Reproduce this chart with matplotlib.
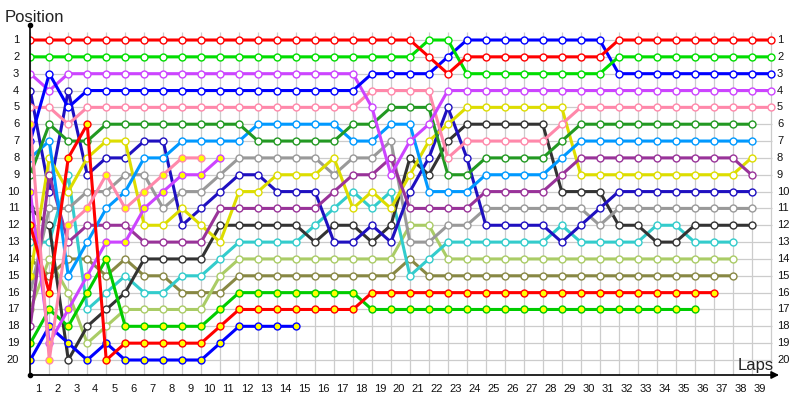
import matplotlib
matplotlib.use("Agg")
import matplotlib.pyplot as plt

# ---------------- data: position after each lap (index 0 = grid) ----------------
red = [1,1,1,1,1,1,1,1,1,1, 1,1,1,1,1,1,1,1,1,1, 1,2,3,2,2,2,2,2,2,2, 2,1,1,1,1,1,1,1,1,1]
green = [2,2,2,2,2,2,2,2,2,2, 2,2,2,2,2,2,2,2,2,2, 2,1,1,3,3,3,3,3,3,3, 3,2,2,2,2,2,2,2,2,2]
violet = [3,4,3,3,3,3,3,3,3,3, 3,3,3,3,3,3,3,3,5,9, 7,6,4,4,4,4,4,4,4,4, 4,4,4,4,4,4,4,4,4,4]
blue = [7,3,5,4,4,4,4,4,4,4, 4,4,4,4,4,4,4,4,3,3, 3,3,2,1,1,1,1,1,1,1, 1,3,3,3,3,3,3,3,3,3]
pink = [5,5,6,5,5,5,5,5,5,5, 5,5,5,5,5,5,5,5,4,4, 4,4,8,7,7,7,7,7,6,5, 5,5,5,5,5,5,5,5,5,5]
darkgreen = [9,6,7,7,6,6,6,6,6,6, 6,6,7,7,7,7,7,6,6,5, 5,5,9,9,8,8,8,8,7,6, 6,6,6,6,6,6,6,6,6]
azure = [8,7,15,13,11,10,8,8,7,7, 7,7,6,6,6,6,6,7,7,6, 6,10,10,10,9,9,9,9,8,7, 7,7,7,7,7,7,7,7,7]
purple = [18,9,13,12,12,12,13,13,13,13, 11,11,11,11,11,11,10,9,9,8, 11,11,11,11,10,10,10,10,9,8, 8,8,8,8,8,8,8,8,9]
yellow = [15,8,10,8,7,7,12,12,11,12, 13,10,10,9,9,9,8,11,10,11, 9,7,6,5,5,5,5,5,5,9, 9,9,9,9,9,9,9,9,8]
navy = [4,10,4,9,8,8,7,7,12,11, 10,9,9,10,10,10,13,13,12,13, 10,8,5,8,12,12,12,12,13,12, 11,10,10,10,10,10,10,10,10]
gray = [16,11,11,10,10,9,9,11,10,10, 9,8,8,8,8,8,9,8,8,7, 13,13,12,12,11,11,11,11,11,11, 12,11,11,11,11,11,11,11,11]
dark = [11,12,20,18,17,16,14,14,14,14, 12,12,12,12,12,13,12,12,13,12, 8,9,7,6,6,6,6,6,10,10, 10,12,12,13,13,12,12,12,12]
cyan = [13,13,9,17,16,15,16,16,15,15, 14,13,13,13,13,12,11,10,11,10, 15,14,13,13,13,13,13,13,12,13, 13,13,13,12,12,13,13,13]
lightolive = [17,14,16,19,18,17,17,17,17,17, 15,14,14,14,14,14,14,14,14,14, 12,12,14,14,14,14,14,14,14,14, 14,14,14,14,14,14,14,14]
olive = [14,15,14,14,15,14,15,15,16,16, 16,15,15,15,15,15,15,15,15,15, 14,15,15,15,15,15,15,15,15,15, 15,15,15,15,15,15,15,15]
red_y = [12,16,8,6,20,19,19,19,19,19, 18,17,17,17,17,17,17,17,16,16, 16,16,16,16,16,16,16,16,16,16, 16,16,16,16,16,16,16]
green_y = [19,17,18,16,14,18,18,18,18,18, 17,16,16,16,16,16,16,16,17,17, 17,17,17,17,17,17,17,17,17,17, 17,17,17,17,17,17]
blue_y = [20,18,19,20,19,20,20,20,20,20, 19,18,18,18,18]
pink_y = [6,20,12,11,9,11,10,9,8,8]
violet_y = [10,19,17,15,13,13,11,10,9,9,8]

lap_labels = [str(k) for k in range(1, 40)]
row_labels = [str(r) for r in range(1, 21)]

# style: (series, line colour, yellow-filled markers?)
series = [
    (olive, '#888844', False),
    (lightolive, '#aacc66', False),
    (cyan, '#33cccc', False),
    (dark, '#333333', False),
    (gray, '#999999', False),
    (navy, '#1f10c0', False),
    (yellow, '#dddd00', False),
    (purple, '#993399', False),
    (azure, '#0099ff', False),
    (darkgreen, '#229922', False),
    (pink, '#ff88aa', False),
    (violet, '#cc44ff', False),
    (blue, '#0000ff', False),
    (green, '#00dd00', False),
    (red, '#ff0000', False),
    (blue_y, '#0000ff', True),
    (green_y, '#00cc00', True),
    (violet_y, '#cc44ff', True),
    (red_y, '#ff0000', True),
    (pink_y, '#ff88aa', True),
]
extra_filled = {id(yellow): [0]}

# ---------------- figure ----------------
W, H = 800, 400
fig = plt.figure(figsize=(8, 4), dpi=100)
x0px, dxpx = 30.3, 18.98
y1px, dypx = 40.0, 16.842
xmax = (776 - x0px) / dxpx
ytop = 1 + (25 - y1px) / dypx
ybot = 1 + (375 - y1px) / dypx
ax = fig.add_axes([x0px / W, 1 - 375 / H, (776 - x0px) / W, 350 / H])
ax.set_xlim(0, xmax)
ax.set_ylim(ybot, ytop)
ax.axis('off')

# grid
gc = '#cccccc'
for k in range(40):
    ax.plot([k, k], [0.55, ybot], color=gc, lw=0.9, zorder=1, solid_capstyle='butt')
for r in range(1, 21):
    ax.plot([0, 39.1], [r, r], color=gc, lw=0.9, zorder=1, solid_capstyle='butt')

# axes lines
ax.plot([0, 0], [ytop, ybot], color='black', lw=1.2, zorder=50, clip_on=False)
ax.plot([0], [ytop], 'o', color='black', ms=3, zorder=51, clip_on=False)
ax.plot([0], [ybot], 'o', color='black', ms=3, zorder=51, clip_on=False)
ax.annotate('', xy=(39.45, ybot), xytext=(0, ybot),
            arrowprops=dict(arrowstyle='-|>', color='black', lw=1.2,
                            mutation_scale=11, shrinkA=0, shrinkB=0),
            annotation_clip=False, zorder=50)

# series
z = 5
for vals, col, filled in series:
    laps = list(range(len(vals)))
    ax.plot(laps, vals, color=col, lw=2.2, zorder=z, solid_joinstyle='round')
    extra = extra_filled.get(id(vals), [])
    fx = [l for l in laps if filled or l in extra]
    ox = [l for l in laps if not (filled or l in extra)]
    if ox:
        ax.plot(ox, [vals[l] for l in ox], 'o', ls='none', ms=5.0, mfc='white',
                mec=col, mew=1.0, zorder=z + 1)
    if fx:
        ax.plot(fx, [vals[l] for l in fx], 'o', ls='none', ms=5.0, mfc='#ffff00',
                mec=col, mew=1.0, zorder=z + 1)
    z += 2

# labels
tf = dict(fontsize=8, family='Liberation Sans', color='#111111')
for i, lab in enumerate(row_labels):
    r = i + 1
    ax.text(-0.58, r, lab, ha='right', va='center', clip_on=False, **tf)
    ax.text(39.34, r, lab, ha='left', va='center', clip_on=False, **tf)
ylab = 1 + (389 - y1px) / dypx
for i, lab in enumerate(lap_labels):
    k = i + 1
    ax.text(k - 0.58, ylab, lab, ha='center', va='center', clip_on=False, **tf)

fig.text(5 / W, 1 - 22 / H, 'Position', ha='left', va='baseline',
         fontsize=12, family='Liberation Sans', color='#222222')
fig.text(774 / W, 1 - 370 / H, 'Laps', ha='right', va='baseline',
         fontsize=12, family='Liberation Sans', color='#222222')

fig.savefig('out.png', dpi=100)
